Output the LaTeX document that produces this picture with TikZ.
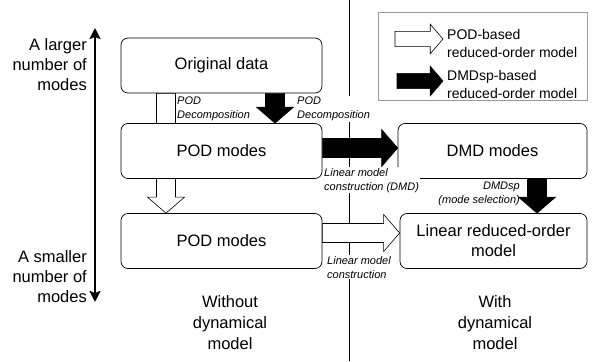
\documentclass[tikz,border=0pt]{standalone}
\usepackage{fontspec}
\setmainfont{Liberation Sans}
\usetikzlibrary{calc, arrows.meta}
\pgfdeclarelayer{back}
\pgfdeclarelayer{mid}
\pgfsetlayers{back,mid,main}
\tikzstyle{scalearrow} = [line width=2.6pt, {Stealth[length=11pt,width=11pt,inset=2pt]}-{Stealth[length=11pt,width=11pt,inset=2pt]}]

% block arrows: [scale]{style}{start}{tip}
\newcommand{\downblock}[4][1]{%
  \path[#2] let \p1=(#3), \p2=(#4) in
    (\x1-9.5pt*#1,\y1) -- (\x1-9.5pt*#1,\y2+16pt*#1)
    -- (\x1-18.5pt*#1,\y2+16pt*#1) -- (\x1,\y2)
    -- (\x1+18.5pt*#1,\y2+16pt*#1) -- (\x1+9.5pt*#1,\y2+16pt*#1)
    -- (\x1+9.5pt*#1,\y1) -- cycle;}
\newcommand{\rightblock}[4][1]{%
  \path[#2] let \p1=(#3), \p2=(#4) in
    (\x1,\y1+9.5pt*#1) -- (\x2-16pt*#1,\y1+9.5pt*#1)
    -- (\x2-16pt*#1,\y1+18.5pt*#1) -- (\x2,\y1)
    -- (\x2-16pt*#1,\y1-18.5pt*#1) -- (\x2-16pt*#1,\y1-9.5pt*#1)
    -- (\x1,\y1-9.5pt*#1) -- cycle;}

\begin{document}
\begin{tikzpicture}[x=1pt,y=1pt]
  \tikzstyle{every node}=[font=\fontsize{16.5}{20}\selectfont]
  \tikzstyle{modebox} = [draw=black, line width=0.7pt, rounded corners=7pt, fill=white, minimum width=201pt, minimum height=55pt, inner sep=0pt, align=center]
  \tikzstyle{podarrow} = [draw=black, line width=0.6pt, fill=white]
  \tikzstyle{dmdarrow} = [draw=black, line width=0.6pt, fill=black]
  \tikzstyle{steplabel} = [font=\fontsize{11}{14}\selectfont\itshape, align=left, inner sep=1pt]
  \tikzstyle{sidelabel} = [align=right, inner sep=0pt, anchor=east]
  \tikzstyle{caselabel} = [align=center, inner sep=0pt, font=\fontsize{16.5}{21}\selectfont]
  \tikzstyle{keytext} = [font=\fontsize{14}{18}\selectfont, align=left, anchor=west, inner sep=0pt]

  \useasboundingbox (0,0) rectangle (593,-361);

  % mode boxes
  \node[modebox] (orig) at (221.5,-65.5) {Original data};
  \node[modebox] (podA) at (221.5,-151) {POD modes};
  \node[modebox] (podB) at (221.5,-241) {POD modes};
  \node[modebox, minimum width=189pt] (dmd) at (492.5,-151) {DMD modes};
  \node[modebox, minimum width=187pt] (lrom) at (493.5,-241) {Linear reduced-order\\model};

  % divider between the two cases
  \coordinate (divtop) at (349,0);
  \coordinate (divbot) at (349,-361);
  \begin{pgfonlayer}{back}
    \draw[line width=0.7pt] (divtop) -- (divbot);
  \end{pgfonlayer}

  % flow arrows
  \begin{pgfonlayer}{mid}
    \downblock{podarrow}{$(orig.south)+(-55.5,0)$}{$(podB.north)+(-55.5,0)$}
    \downblock{dmdarrow}{$(orig.south)+(53.5,0)$}{$(podA.north)+(53.5,0)$}
    \rightblock{dmdarrow}{$(podA.east)+(0,3)$}{$(dmd.west)+(0,3)$}
    \downblock{dmdarrow}{$(dmd.south)+(44.5,0)$}{$(lrom.north)+(44.5,0)$}
    \rightblock{podarrow}{$(podB.east)+(0,8)$}{$(lrom.west)+(0,8)$}
  \end{pgfonlayer}

  % step labels
  \node[steplabel, anchor=north west] (decoA) at (176,-96) {POD\\Decomposition};
  \node[steplabel, anchor=north west, fill=white] (decoB) at (296,-96) {POD\\Decomposition};
  \node[steplabel, anchor=north west, fill=white] (lincA) at (323,-167) {Linear model\\construction (DMD)};
  \node[steplabel, anchor=north east, align=right] (selB) at (521,-181) {DMDsp\\(mode selection)};
  \node[steplabel, anchor=north west, fill=white] (lincB) at (326,-255) {Linear model\\construction};

  % number of modes
  \coordinate (many) at (95,-28);
  \coordinate (few) at (95,-302);
  \draw[scalearrow] (few) -- (many);
  \node[sidelabel] (larger) at (87,-65) {A larger\\number of\\modes};
  \node[sidelabel] (smaller) at (87,-277) {A smaller\\number of\\modes};

  % cases
  \node[caselabel] (without) at (230,-323) {Without\\dynamical\\model};
  \node[caselabel] (with) at (495,-323) {With\\dynamical\\model};

  % legend
  \node[draw=gray!80, line width=0.7pt, minimum width=209pt, minimum height=88pt, inner sep=0pt] (legend) at (482.5,-56) {};
  \coordinate (podkeyA) at (395,-39);
  \coordinate (podkeyB) at (443,-39);
  \coordinate (dmdkeyA) at (397,-81);
  \coordinate (dmdkeyB) at (443,-81);
  \rightblock[0.8]{podarrow}{podkeyA}{podkeyB}
  \rightblock[0.8]{dmdarrow}{dmdkeyA}{dmdkeyB}
  \node[keytext] (podkey) at (447,-43) {POD-based\\reduced-order model};
  \node[keytext] (dmdkey) at (447,-84) {DMDsp-based\\reduced-order model};
\end{tikzpicture}
\end{document}
